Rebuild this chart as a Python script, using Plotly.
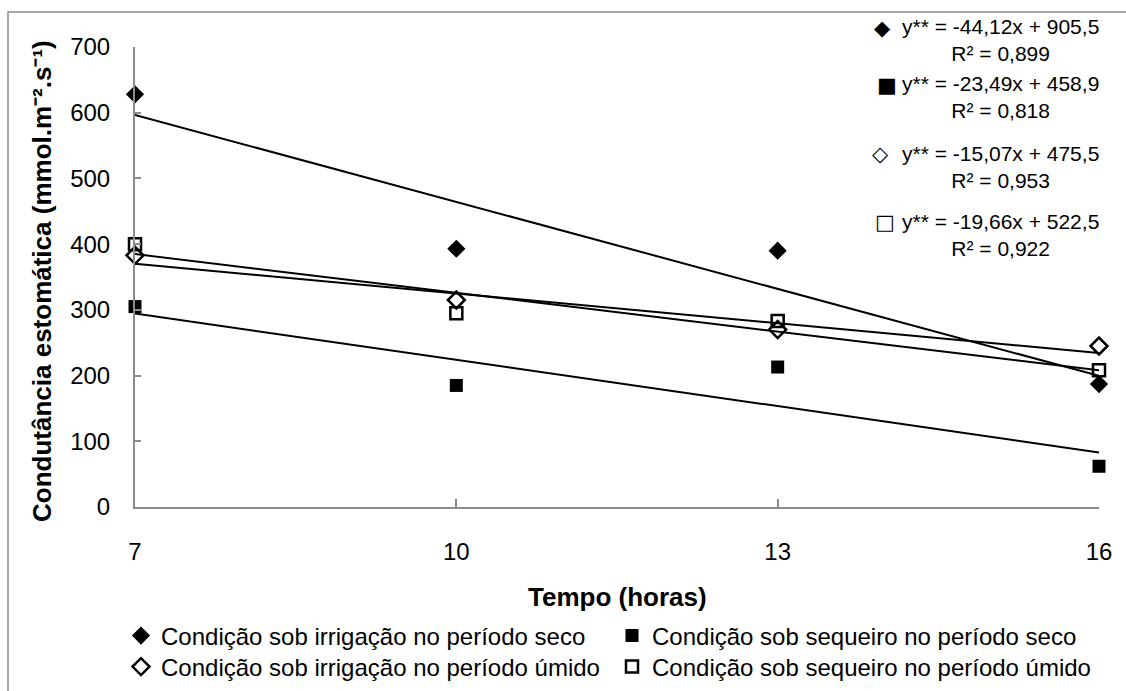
import plotly.graph_objects as go

# Sampling times (hours)
horas = [7, 10, 13, 16]

# Stomatal conductance (mmol m-2 s-1) per condition
irrig_seco = [628, 393, 390, 187]
sequeiro_seco = [305, 185, 213, 62]
irrig_umido = [383, 315, 270, 245]
sequeiro_umido = [400, 295, 283, 208]

# Linear fits: slope, intercept, R²
fit_irrig_seco = (-44.12, 905.5, 0.899)
fit_sequeiro_seco = (-23.49, 458.9, 0.818)
fit_irrig_umido = (-15.07, 475.5, 0.953)
fit_sequeiro_umido = (-19.66, 522.5, 0.922)

nomes = [
    "Condição sob irrigação no período seco",
    "Condição sob sequeiro no período seco",
    "Condição sob irrigação no período úmido",
    "Condição sob sequeiro no período úmido",
]

W, H = 1126, 691
ML, MR, MT, MB = 135, 27, 47, 184
PW, PH = W - ML - MR, H - MT - MB


def px_x(px):
    return (px - ML) / PW


def px_y(py):
    return (H - MB - py) / PH


FONT = "Liberation Sans, Arial, sans-serif"

series = [
    (irrig_seco, fit_irrig_seco, dict(symbol="diamond", size=14, color="black")),
    (sequeiro_seco, fit_sequeiro_seco, dict(symbol="square", size=13, color="black")),
    (irrig_umido, fit_irrig_umido,
     dict(symbol="diamond-open", size=13, color="black", line=dict(width=2.5, color="black"))),
    (sequeiro_umido, fit_sequeiro_umido,
     dict(symbol="square-open", size=12, color="black", line=dict(width=2.5, color="black"))),
]

# one legend box per entry: (left edge px, row centre px)
legend_pos = [(121, 636), (612, 636), (121, 667), (612, 667)]
legend_ids = ["legend", "legend2", "legend3", "legend4"]

fig = go.Figure()

# trend lines
for valores, (a, b, r2), marker in series:
    xs = [horas[0], horas[-1]]
    fig.add_trace(go.Scatter(
        x=xs, y=[a * x + b for x in xs], mode="lines",
        line=dict(color="black", width=2), showlegend=False,
        cliponaxis=False, hoverinfo="skip",
    ))

# observed points
for nome, (valores, fit, marker), leg in zip(nomes, series, legend_ids):
    fig.add_trace(go.Scatter(
        x=horas, y=valores, mode="markers", name=nome, marker=marker,
        cliponaxis=False, legend=leg,
    ))

# regression equations with their series symbol
simbolos = ["◆", "■", "◇", "□"]
simb_x = [882, 887, 880, 885]
centros = [40.5, 97.5, 166.5, 234.5]
for simb, sx, cy, (valores, (a, b, r2), marker) in zip(simbolos, simb_x, centros, series):
    eq = "y** = {}x + {}".format(f"{a:.2f}".replace(".", ","), f"{b:.1f}".replace(".", ","))
    r2t = "R² = {}".format(f"{r2:.3f}".replace(".", ","))
    fig.add_annotation(
        x=px_x(1000), y=px_y(cy), xref="paper", yref="paper",
        text=eq + "<br>" + r2t, showarrow=False, align="center",
        xanchor="center", yanchor="middle",
        font=dict(family=FONT, size=21, color="black"),
    )
    fig.add_annotation(
        x=px_x(sx), y=px_y(cy - 12.5), xref="paper", yref="paper",
        text=simb, showarrow=False, xanchor="center", yanchor="middle",
        font=dict(family="DejaVu Sans", size=21, color="black"),
    )

# axis titles
fig.add_annotation(
    x=px_x(42), y=px_y(281), xref="paper", yref="paper", textangle=-90,
    text="Condutância estomática (mmol.m⁻².s⁻¹)", showarrow=False,
    xanchor="center", yanchor="middle",
    font=dict(family=FONT, size=26, color="black", weight="bold"),
)
fig.add_annotation(
    x=px_x(617), y=px_y(597), xref="paper", yref="paper",
    text="Tempo (horas)", showarrow=False, xanchor="center", yanchor="middle",
    font=dict(family=FONT, size=26, color="black", weight="bold"),
)

# outer chart border
fig.add_shape(
    type="rect", xref="paper", yref="paper",
    x0=px_x(8), x1=px_x(1140), y0=px_y(705), y1=px_y(12),
    line=dict(color="#8c8c8c", width=1.5), fillcolor="rgba(0,0,0,0)", layer="below",
)

axis_common = dict(
    showline=True, linecolor="#8c8c8c", linewidth=2, showgrid=False, zeroline=False,
    ticks="inside", tickcolor="#8c8c8c", tickwidth=2,
    tickfont=dict(family=FONT, size=24, color="black"),
)

fig.update_xaxes(range=[7, 16], tickvals=horas, ticklen=8, ticklabelstandoff=22, **axis_common)
fig.update_yaxes(range=[0, 700], dtick=100, ticklen=6, ticklabelstandoff=18, **axis_common)

leg_common = dict(
    orientation="v", yanchor="middle", xanchor="left",
    font=dict(family=FONT, size=24, color="black"), bgcolor="rgba(0,0,0,0)",
    itemwidth=30,
)
legends = {
    lid: dict(x=px_x(lx), y=px_y(ly), **leg_common)
    for lid, (lx, ly) in zip(legend_ids, legend_pos)
}
fig.update_layout(
    width=W, height=H,
    margin=dict(l=ML, r=MR, t=MT, b=MB, autoexpand=False),
    paper_bgcolor="white", plot_bgcolor="white",
    **legends,
)

fig.write_html("out.html")
